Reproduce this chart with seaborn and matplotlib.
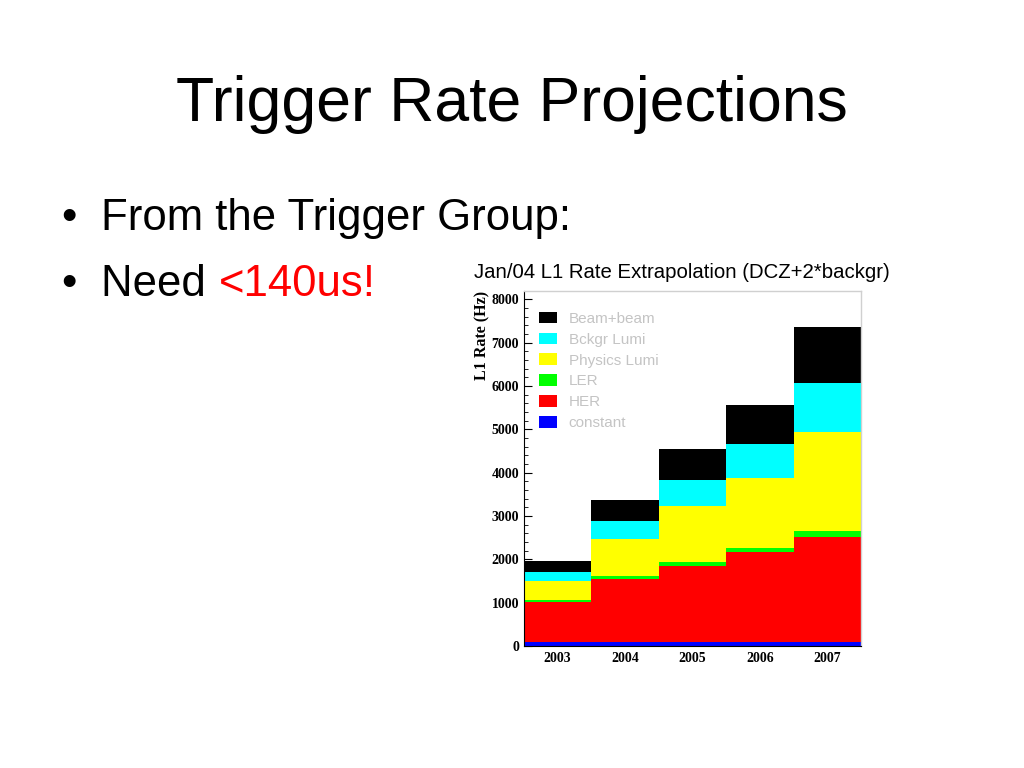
import matplotlib
matplotlib.use('Agg')
import matplotlib.pyplot as plt
import pandas as pd
import seaborn as sns
from matplotlib.ticker import MultipleLocator

# Data (Hz per component, per year)
years = [2003, 2004, 2005, 2006, 2007]
sources = ['Beam+beam', 'Bckgr Lumi', 'Physics Lumi', 'LER', 'HER', 'constant']
beam_beam = [245, 477, 721, 906, 1306]
bckgr_lumi = [200, 407, 607, 776, 1114]
physics_lumi = [440, 853, 1276, 1613, 2304]
ler = [55, 70, 100, 92, 138]
her = [920, 1465, 1755, 2080, 2414]
constant = [90, 90, 90, 90, 90]
colors = ['#000000', '#00ffff', '#ffff00', '#00ff00', '#ff0000', '#0000ff']

values = [beam_beam, bckgr_lumi, physics_lumi, ler, her, constant]
rows = []
for src, vals in zip(sources, values):
    for yr, v in zip(years, vals):
        rows.append({'year': yr, 'rate': v, 'source': src})
df = pd.DataFrame(rows)

sns.set_style('white')
plt.rcParams['font.family'] = ['Liberation Sans', 'DejaVu Sans']
plt.rcParams['text.color'] = 'black'
plt.rcParams['axes.labelcolor'] = 'black'
plt.rcParams['xtick.color'] = 'black'
plt.rcParams['ytick.color'] = 'black'

fig = plt.figure(figsize=(10.24, 7.68), dpi=100)

# slide text
fig.text(0.5, 0.843, 'Trigger Rate Projections', ha='center', va='baseline', fontsize=45)
fig.text(0.067, 0.70, '\u2022', ha='center', va='baseline', fontsize=31.5)
fig.text(0.099, 0.70, 'From the Trigger Group:', ha='left', va='baseline', fontsize=31.5)
fig.text(0.067, 0.615, '\u2022', ha='center', va='baseline', fontsize=31.5)
t = fig.text(0.099, 0.615, 'Need ', ha='left', va='baseline', fontsize=31.5)
fig.canvas.draw()
bb = t.get_window_extent()
fig.text(bb.x1 / fig.bbox.width, 0.615, '<140us!', ha='left', va='baseline',
         fontsize=31.5, color='#ff0000')

# chart
ax = fig.add_axes([0.5117, 0.1589, 0.3291, 0.4622])
ax.set_axisbelow(True)
sns.histplot(data=df, x='year', weights='rate', hue='source', hue_order=sources,
             multiple='stack', discrete=True, shrink=1, palette=colors,
             linewidth=0, alpha=1, ax=ax)

ax.set_xlim(2002.5, 2007.5)
ax.set_ylim(0, 8190)
ax.set_xticks(years)
ax.set_xticklabels([str(y) for y in years])
ax.yaxis.set_major_locator(MultipleLocator(1000))
ax.yaxis.set_minor_locator(MultipleLocator(200))
ax.tick_params(axis='y', which='major', direction='in', length=6, width=0.8, left=True)
ax.tick_params(axis='y', which='minor', direction='in', length=3, width=0.6, left=True)
ax.tick_params(axis='x', length=0, pad=4)
for lab in ax.get_xticklabels() + ax.get_yticklabels():
    lab.set_fontfamily('Liberation Serif')
    lab.set_fontweight('bold')
    lab.set_fontsize(10)
ax.set_xlabel('')
ax.set_ylabel('L1 Rate (Hz)', loc='top', fontfamily='Liberation Serif',
              fontweight='bold', fontsize=11.5, labelpad=1)

for side in ['top', 'right']:
    ax.spines[side].set_color('#d0d0d0')
    ax.spines[side].set_linewidth(1)
ax.spines['left'].set_color('black')
ax.spines['bottom'].set_color('black')

ax.set_title('Jan/04 L1 Rate Extrapolation (DCZ+2*backgr)', fontsize=14.7, pad=9,
             loc='center', x=0.469)

sns.move_legend(ax, 'upper left', bbox_to_anchor=(0.044, 0.942), title=None,
                frameon=False, fontsize=11, handlelength=1.2, handleheight=0.78,
                handletextpad=0.75, labelspacing=0.45, borderpad=0, borderaxespad=0)
leg = ax.get_legend()
for txt in leg.get_texts():
    txt.set_color('#c4c4c4')

fig.savefig('out.png', dpi=100)
